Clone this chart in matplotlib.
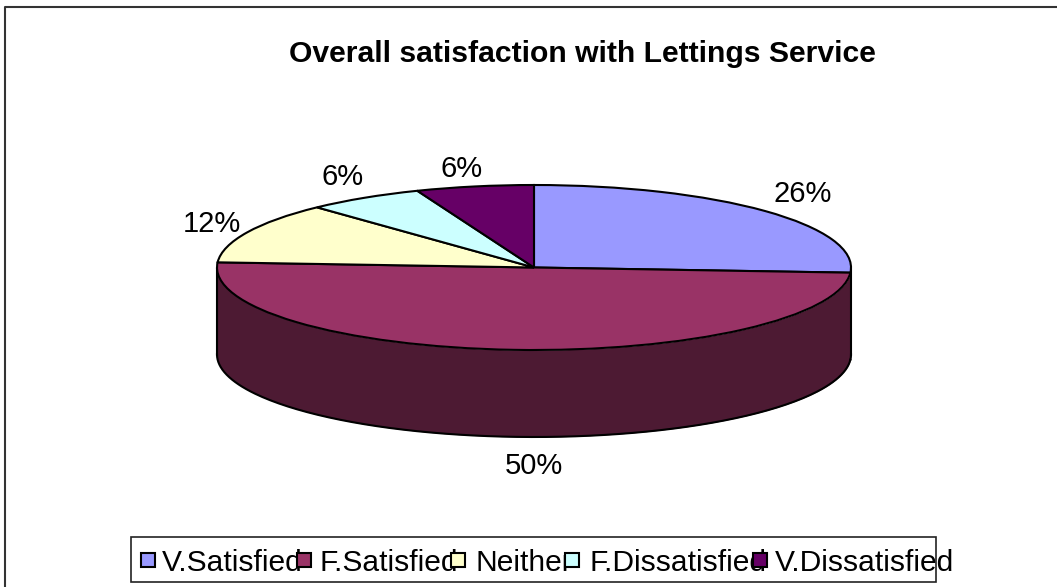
import numpy as np
import matplotlib
matplotlib.use("Agg")
import matplotlib.pyplot as plt
from matplotlib.lines import Line2D
from matplotlib.patches import Rectangle

plt.rcParams["font.family"] = ["Liberation Sans", "DejaVu Sans"]

W, H = 1057, 587

categories = ["V.Satisfied", "F.Satisfied", "Neither", "F.Dissatisfied", "V.Dissatisfied"]
values = [26, 50, 12, 6, 6]
colors = ["#9999FF", "#993366", "#FFFFCC", "#CCFFFF", "#660066"]
wall_colors = ["#4D4D80", "#4D1A33", "#808066", "#668080", "#330033"]
title = "Overall satisfaction with Lettings Service"

# pixel geometry of the pie
cx, cy, rx, ry = 534, 267.5, 317, 82.5
depth = 87 / ry


def fx(px):
    return px / W


def fy(py):
    return 1 - py / H


fig = plt.figure(figsize=(W / 100, H / 100), dpi=100, facecolor="white")
ax = fig.add_axes([0, 0, 1, 1])

# outer frame, only left and top fall inside the picture
fig.add_artist(Line2D([fx(5), fx(5), 1], [0, fy(7), fy(7)], color="#333333", lw=1.5))

# side wall, clockwise from the top like the pie
start = 90
for v, c in zip(values, wall_colors):
    end = start - v / sum(values) * 360
    if end < 0 and start > -180:
        t = np.radians(np.linspace(max(end, -180), min(start, 0), 200))
        ax.fill_between(np.cos(t), np.sin(t), np.sin(t) - depth, color=c, linewidth=0, zorder=1)
        ax.plot(np.cos(t), np.sin(t) - depth, color="black", lw=1.5, zorder=2)
    start = end
ax.plot([1, 1], [0, -depth], color="black", lw=1.5, zorder=2)
ax.plot([-1, -1], [0, -depth], color="black", lw=1.5, zorder=2)

# top face
wedges, _ = ax.pie(values, colors=colors, startangle=90, counterclock=False, radius=1,
                   wedgeprops={"edgecolor": "black", "linewidth": 1.5, "zorder": 3})
ax.set_aspect("auto")
ax.set_xlim((0 - cx) / rx, (W - cx) / rx)
ax.set_ylim((cy - H) / ry, cy / ry)
ax.axis("off")

# title and value labels
fig.text(fx(582.5), fy(62), title, fontsize=21.7, fontweight="bold", ha="center", va="baseline")
label_px = [(803, 202), (534, 474), (212, 232), (343, 185), (462, 177)]
for v, (x, y) in zip(values, label_px):
    fig.text(fx(x), fy(y), f"{v}%", fontsize=21, ha="center", va="baseline")

# legend, the text runs into the next key like the original
fig.add_artist(Rectangle((fx(131), fy(582)), fx(936) - fx(131), fy(537) - fy(582), transform=fig.transFigure,
                         fill=False, edgecolor="#222222", linewidth=1.2))
key_x = [148, 304, 458, 572, 760]
text_x = [162, 319, 475, 589, 775]
for name, c, kx, tx in zip(categories, colors, key_x, text_x):
    fig.text(fx(tx), fy(571), name, fontsize=21.6, ha="left", va="baseline", zorder=3)
    fig.add_artist(Rectangle((fx(kx - 7), fy(567)), 14 / W, 14 / H, transform=fig.transFigure,
                             facecolor=c, edgecolor="black", linewidth=1.5, zorder=4))

fig.savefig("out.png", dpi=100)
